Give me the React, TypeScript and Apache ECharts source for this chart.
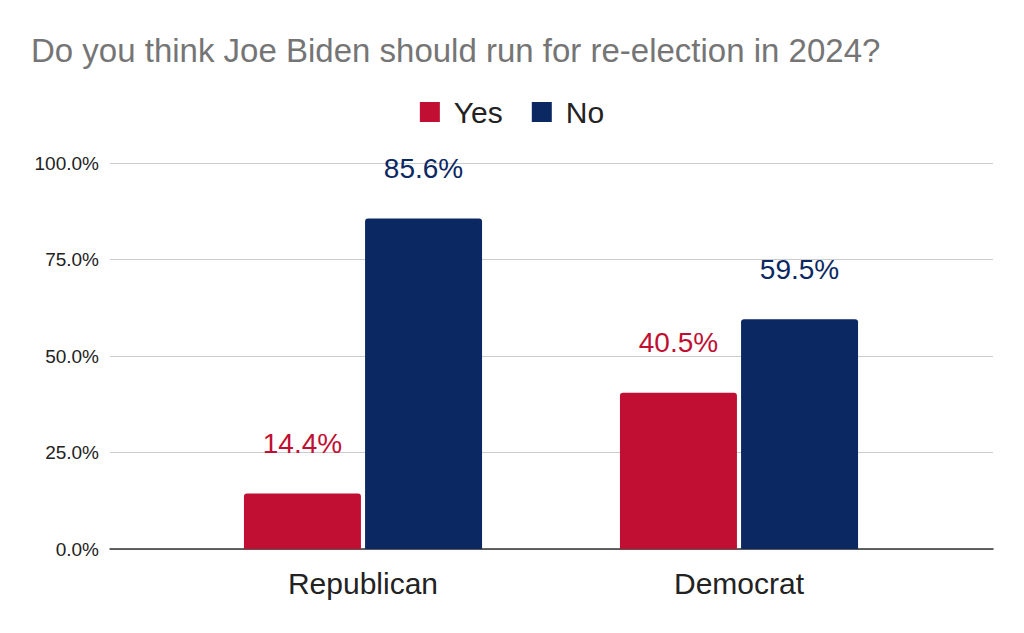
import React, { useEffect, useRef } from "react";
import * as echarts from "echarts";

const categories = ["Republican", "Democrat"];
const yesValues = [14.4, 40.5];
const noValues = [85.6, 59.5];
const yTicks = [0, 25, 50, 75, 100];

const RED = "#C00F33";
const NAVY = "#0B2863";

export default function App() {
  const ref = useRef<HTMLDivElement>(null);
  useEffect(() => {
    const chart = echarts.init(ref.current!, null, { renderer: "svg" });
    const font = "'Liberation Sans', Arial, sans-serif";
    chart.setOption({
      animation: false,
      textStyle: { fontFamily: font },
      title: {
        text: "Do you think Joe Biden should run for re-election in 2024?",
        left: 31,
        top: 34,
        padding: 0,
        textStyle: { color: "#757575", fontSize: 33, fontWeight: "normal", fontFamily: font },
      },
      legend: {
        top: 92,
        left: "center",
        itemWidth: 20,
        itemHeight: 20,
        itemGap: 29,
        icon: "rect",
        textStyle: { fontSize: 30, color: "#222", fontFamily: font, padding: [0, 0, 0, 9] },
        data: ["Yes", "No"],
      },
      grid: [
        { left: 110, right: 31, top: 163, bottom: 84 },
        { left: 175, right: 97, top: 163, bottom: 84 },
      ],
      xAxis: [
        {
          gridIndex: 0,
          type: "category",
          data: categories,
          axisLine: { show: true, lineStyle: { color: "#333", width: 1.5 } },
          axisTick: { show: false },
          axisLabel: { show: false },
        },
        {
          gridIndex: 1,
          type: "category",
          data: categories,
          axisLine: { show: false },
          axisTick: { show: false },
          axisLabel: { fontSize: 30, color: "#222", margin: 19, fontFamily: font },
        },
      ],
      yAxis: [
        {
          gridIndex: 0,
          type: "value",
          min: yTicks[0],
          max: yTicks[yTicks.length - 1],
          interval: 25,
          axisLine: { show: false },
          axisTick: { show: false },
          splitLine: { lineStyle: { color: "#cccccc", width: 1 } },
          axisLabel: {
            fontSize: 19,
            color: "#222",
            margin: 11,
            formatter: (v: number) => v.toFixed(1) + "%",
            fontFamily: font,
          },
        },
        {
          gridIndex: 1,
          type: "value",
          min: 0,
          max: 100,
          interval: 25,
          show: false,
          splitLine: { show: false },
        },
      ],
      series: [
        {
          name: "Yes",
          type: "bar",
          xAxisIndex: 1,
          yAxisIndex: 1,
          data: yesValues,
          barWidth: 117,
          barGap: "3.5%",
          itemStyle: { color: RED, borderRadius: [3, 3, 0, 0] },
          label: {
            show: true,
            position: "top",
            distance: 36,
            fontSize: 28,
            color: RED,
            formatter: (p: any) => p.value.toFixed(1) + "%",
            fontFamily: font,
          },
        },
        {
          name: "No",
          type: "bar",
          xAxisIndex: 1,
          yAxisIndex: 1,
          data: noValues,
          barWidth: 117,
          barGap: "3.5%",
          itemStyle: { color: NAVY, borderRadius: [3, 3, 0, 0] },
          label: {
            show: true,
            position: "top",
            distance: 36,
            fontSize: 28,
            color: NAVY,
            formatter: (p: any) => p.value.toFixed(1) + "%",
            fontFamily: font,
          },
        },
      ],
    });
    return () => chart.dispose();
  }, []);
  return <div ref={ref} style={{ width: 1024, height: 633, margin: -8 }} />;
}
